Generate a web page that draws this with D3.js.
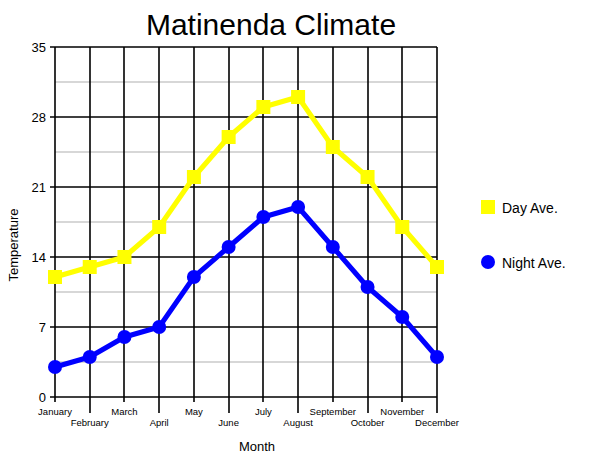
<!DOCTYPE html>
<html><head><meta charset="utf-8">
<script src="https://cdn.jsdelivr.net/npm/d3@7"></script>
<style>body{margin:0;background:#fff;} svg{display:block;font-family:"Liberation Sans",Arial,sans-serif;}</style>
</head><body>
<svg id="c" width="600" height="463"></svg>
<script>
const months = ["January","February","March","April","May","June","July","August","September","October","November","December"];
const dayAve = [12,13,14,17,22,26,29,30,25,22,17,13];
const nightAve = [3,4,6,7,12,15,18,19,15,11,8,4];
const yTicks = [0,7,14,21,28,35];
const minorTicks = [3.5,10.5,17.5,24.5,31.5];
const seriesNames = ["Day Ave.","Night Ave."];
const colors = ["#ffff00","#0000ff"];

const svg = d3.select("#c");
const L=55,R=437,T=47,B=397;
const x = d3.scalePoint().domain(months).range([L,R]);
const y = d3.scaleLinear().domain([0,35]).range([B,T]);
const px = v => Math.round(v);

// minor gridlines
svg.append("g").selectAll("line").data(minorTicks).join("line")
  .attr("x1",L).attr("x2",R).attr("y1",d=>px(y(d))).attr("y2",d=>px(y(d)))
  .attr("stroke","#b0b0b0").attr("stroke-width",1.2);
// major horizontal
svg.append("g").selectAll("line").data(yTicks).join("line")
  .attr("x1",L-5).attr("x2",R).attr("y1",d=>px(y(d))).attr("y2",d=>px(y(d)))
  .attr("stroke","#000").attr("stroke-width",1.6);
// vertical
svg.append("g").selectAll("line").data(months).join("line")
  .attr("x1",d=>px(x(d))).attr("x2",d=>px(x(d))).attr("y1",T).attr("y2",(d,i)=>i%2? B+16 : B+5)
  .attr("stroke","#000").attr("stroke-width",1.6);

// y labels
svg.append("g").selectAll("text").data(yTicks).join("text")
  .attr("x",L-9).attr("y",d=>y(d)).attr("dy","0.35em").attr("text-anchor","end")
  .attr("font-size",13).text(d=>d);
// x labels
svg.append("g").selectAll("text").data(months).join("text")
  .attr("x",d=>x(d)).attr("y",(d,i)=>i%2? B+29 : B+18).attr("text-anchor","middle")
  .attr("font-size",9.5).text(d=>d);

// title and axis labels
svg.append("text").attr("x",271).attr("y",35).attr("text-anchor","middle").attr("font-size",30).text("Matinenda Climate");
svg.append("text").attr("x",257).attr("y",451).attr("text-anchor","middle").attr("font-size",13).text("Month");
svg.append("text").attr("transform","translate(18,245) rotate(-90)").attr("text-anchor","middle").attr("font-size",13).text("Temperature");

const line = d3.line().x((d,i)=>x(months[i])).y(d=>y(d));
[dayAve,nightAve].forEach((data,k)=>{
  svg.append("path").datum(data).attr("d",line).attr("fill","none")
    .attr("stroke",colors[k]).attr("stroke-width",5).attr("stroke-linejoin","round");
  const g = svg.append("g");
  if(k===0){
    g.selectAll("rect").data(data).join("rect")
      .attr("x",(d,i)=>x(months[i])-7).attr("y",d=>y(d)-7).attr("width",14).attr("height",14).attr("fill",colors[k]);
  } else {
    g.selectAll("circle").data(data).join("circle")
      .attr("cx",(d,i)=>x(months[i])).attr("cy",d=>y(d)).attr("r",7).attr("fill",colors[k]);
  }
});

// legend
const lg = svg.append("g");
lg.append("rect").attr("x",481).attr("y",200).attr("width",14).attr("height",14).attr("fill",colors[0]);
lg.append("text").attr("x",502).attr("y",213).attr("font-size",14).text(seriesNames[0]);
lg.append("circle").attr("cx",488).attr("cy",262).attr("r",7).attr("fill",colors[1]);
lg.append("text").attr("x",502).attr("y",268).attr("font-size",14).text(seriesNames[1]);
</script>
</body></html>
